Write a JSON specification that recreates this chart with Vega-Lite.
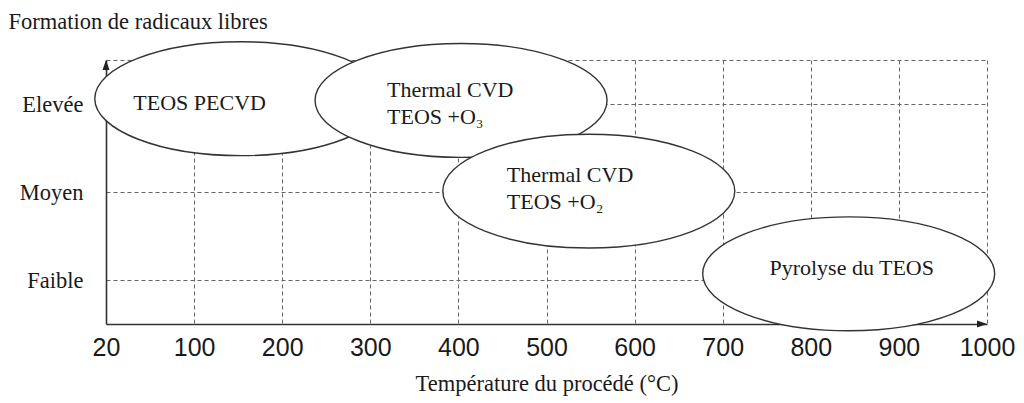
{
  "$schema": "https://vega.github.io/schema/vega-lite/v6.json",
  "width": 881,
  "height": 264,
  "autosize": "none",
  "padding": {"left": 106, "top": 60, "right": 37, "bottom": 79},
  "background": "white",
  "config": {"view": {"stroke": null}},
  "datasets": {
    "zones": [
      {"process": "TEOS PECVD", "temp": 153, "level": 2.56},
      {"process": "Thermal CVD TEOS +O3", "temp": 403, "level": 2.54},
      {"process": "Thermal CVD TEOS +O2", "temp": 548, "level": 1.51},
      {"process": "Pyrolyse du TEOS", "temp": 843, "level": 0.57}
    ],
    "labels": [
      {"text": "TEOS PECVD", "temp": 31, "level": 2.51},
      {"text": "Thermal CVD\nTEOS +O₃", "temp": 319, "level": 2.66},
      {"text": "Thermal CVD\nTEOS +O₂", "temp": 455, "level": 1.69},
      {"text": "Pyrolyse du TEOS", "temp": 753, "level": 0.64}
    ],
    "arrows": [
      {"temp": 1000, "level": 0, "dir": "right"},
      {"temp": 0, "level": 3, "dir": "up"}
    ]
  },
  "layer": [
    {
      "data": {"name": "zones"},
      "mark": {
        "type": "point",
        "shape": "M -1 0 C -1 -0.2154 -0.5523 -0.39 0 -0.39 C 0.5523 -0.39 1 -0.2154 1 0 C 1 0.2154 0.5523 0.39 0 0.39 C -0.5523 0.39 -1 0.2154 -1 0 Z",
        "size": 85264,
        "filled": true,
        "fill": "white",
        "fillOpacity": 1,
        "opacity": 1,
        "stroke": "#333333",
        "strokeWidth": 1.4
      },
      "encoding": {
        "x": {
          "field": "temp",
          "type": "quantitative",
          "scale": {"domain": [0, 1000], "nice": false, "zero": false},
          "axis": {
            "values": [0, 100, 200, 300, 400, 500, 600, 700, 800, 900, 1000],
            "labelExpr": "datum.value == 0 ? '20' : format(datum.value, 'd')",
            "labelFont": "Liberation Sans",
            "labelFontSize": 25,
            "labelColor": "#1a1a1a",
            "labelPadding": 11,
            "labelFlush": false,
            "labelOverlap": false,
            "ticks": false,
            "domainColor": "#333333",
            "domainWidth": 1.6,
            "grid": true,
            "gridColor": "#666666",
            "gridDash": [4, 3],
            "gridWidth": 1,
            "title": "Température du procédé (°C)",
            "titleFont": "Liberation Serif",
            "titleFontSize": 22.5,
            "titleFontWeight": "normal",
            "titleColor": "#1a1a1a",
            "titlePadding": 12
          }
        },
        "y": {
          "field": "level",
          "type": "quantitative",
          "scale": {"domain": [0, 3], "nice": false, "zero": false},
          "axis": {
            "values": [0.5, 1.5, 2.5, 3],
            "labelExpr": "datum.value == 0.5 ? 'Faible' : datum.value == 1.5 ? 'Moyen' : datum.value == 2.5 ? 'Elevée' : ''",
            "labelFont": "Liberation Serif",
            "labelFontSize": 22.5,
            "labelColor": "#1a1a1a",
            "labelPadding": 23,
            "labelFlush": false,
            "labelOverlap": false,
            "ticks": false,
            "domainColor": "#333333",
            "domainWidth": 1.6,
            "grid": true,
            "gridColor": "#666666",
            "gridDash": [4, 3],
            "gridWidth": 1,
            "title": "Formation de radicaux libres",
            "titleFont": "Liberation Serif",
            "titleFontSize": 22.5,
            "titleFontWeight": "normal",
            "titleColor": "#1a1a1a",
            "titleAngle": 0,
            "titleAlign": "left",
            "titleBaseline": "middle",
            "titleX": -98,
            "titleY": -39
          }
        }
      }
    },
    {
      "data": {"name": "labels"},
      "mark": {
        "type": "text",
        "align": "left",
        "baseline": "middle",
        "font": "Liberation Serif",
        "fontSize": 22,
        "lineHeight": 27,
        "lineBreak": "\n",
        "color": "#1a1a1a"
      },
      "encoding": {
        "x": {"field": "temp", "type": "quantitative"},
        "y": {"field": "level", "type": "quantitative"},
        "text": {"field": "text"}
      }
    },
    {
      "data": {"name": "arrows"},
      "mark": {"type": "point", "filled": true, "size": 100, "opacity": 1, "color": "#222222"},
      "encoding": {
        "x": {"field": "temp", "type": "quantitative"},
        "y": {"field": "level", "type": "quantitative"},
        "shape": {
          "field": "dir",
          "type": "nominal",
          "scale": {"domain": ["right", "up"], "range": ["M 0 0 L -2 -0.7 L -2 0.7 Z", "M 0 0 L -0.7 2 L 0.7 2 Z"]},
          "legend": null
        }
      }
    }
  ]
}
